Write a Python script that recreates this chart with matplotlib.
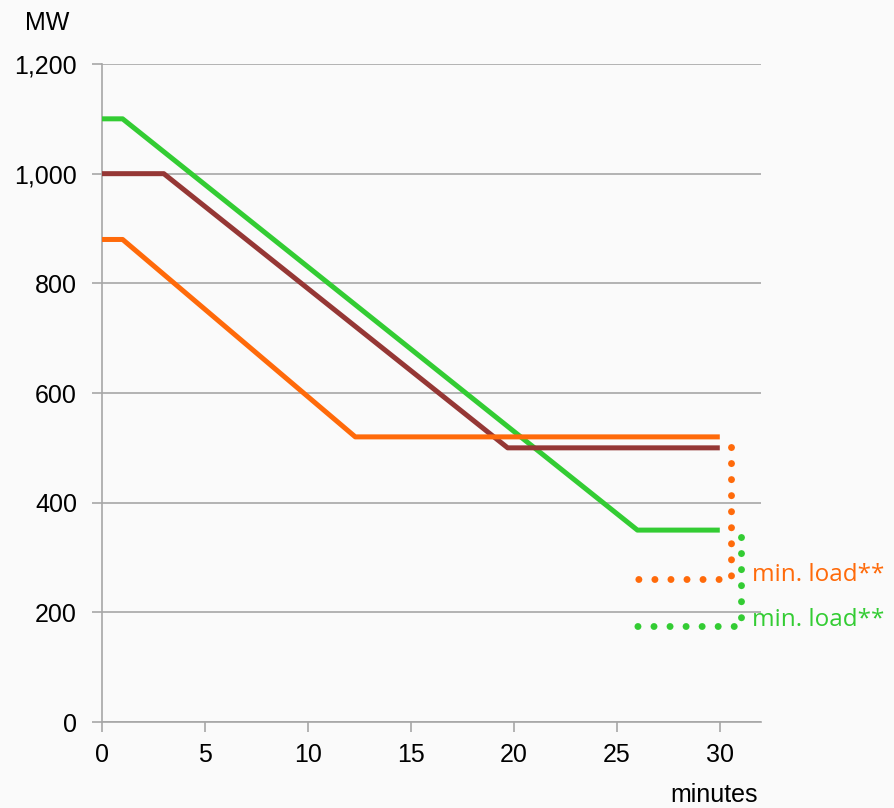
import matplotlib.pyplot as plt

# minutes / MW for each unit
green_t = [0, 1, 26, 30]
green_mw = [1100, 1100, 350, 350]
brown_t = [0, 3, 19.7, 30]
brown_mw = [1000, 1000, 500, 500]
orange_t = [0, 1, 12.3, 30]
orange_mw = [880, 880, 520, 520]

# dotted drop to min. load
orange_min_t = [30.55, 30.55, 26]
orange_min_mw = [502, 260, 260]
green_min_t = [31.05, 31.05, 26]
green_min_mw = [337, 175, 175]

x_ticks = [0, 5, 10, 15, 20, 25, 30]
y_ticks = [0, 200, 400, 600, 800, 1000, 1200]
y_labels = ['0', '200', '400', '600', '800', '1,000', '1,200']

GREEN = '#33cc33'
BROWN = '#953735'
ORANGE = '#ff6a0a'
GRID = '#a6a6a6'

plt.rcParams['font.family'] = ['Liberation Sans', 'DejaVu Sans']

fig = plt.figure(figsize=(8.94, 8.08), dpi=100, facecolor='#fafafa')
ax = fig.add_axes([0.1141, 0.1064, 0.7371, 0.8144])
ax.set_facecolor('#fafafa')

ax.plot(green_t, green_mw, color=GREEN, lw=3.6, solid_capstyle='butt', zorder=3)
ax.plot(brown_t, brown_mw, color=BROWN, lw=3.6, solid_capstyle='butt', zorder=3)
ax.plot(orange_t, orange_mw, color=ORANGE, lw=3.6, solid_capstyle='butt', zorder=3)

dots = (0, (0.01, 2.3))
ax.plot(orange_min_t, orange_min_mw, color=ORANGE, lw=5, linestyle=dots,
        dash_capstyle='round', zorder=3)
ax.plot(green_min_t, green_min_mw, color=GREEN, lw=5, linestyle=dots,
        dash_capstyle='round', zorder=3)

ax.text(31.55, 268, 'min. load**', color=ORANGE, fontsize=17.5, va='center', ha='left',
        family=['Open Sans', 'DejaVu Sans'], clip_on=False)
ax.text(31.55, 186, 'min. load**', color=GREEN, fontsize=17.5, va='center', ha='left',
        family=['Open Sans', 'DejaVu Sans'], clip_on=False)

ax.set_xlim(0, 32)
ax.set_ylim(0, 1200)
ax.set_xticks(x_ticks)
ax.set_yticks(y_ticks)
ax.set_yticklabels(y_labels)
ax.grid(axis='y', color=GRID, lw=1.2, zorder=1)
ax.set_axisbelow(True)

for side in ['top', 'right']:
    ax.spines[side].set_visible(False)
for side in ['left', 'bottom']:
    ax.spines[side].set_color(GRID)
    ax.spines[side].set_linewidth(1.2)

ax.tick_params(axis='both', colors=GRID, labelcolor='black', labelsize=18, length=7, width=1.2)
ax.tick_params(axis='x', pad=8)
ax.tick_params(axis='y', pad=11)

fig.text(47 / 894, 1 - 23 / 808, 'MW', fontsize=18, ha='center', va='center')
fig.text(714 / 894, 1 - 795 / 808, 'minutes', fontsize=18, ha='center', va='center')

fig.savefig('out.png', dpi=100, facecolor=fig.get_facecolor())
